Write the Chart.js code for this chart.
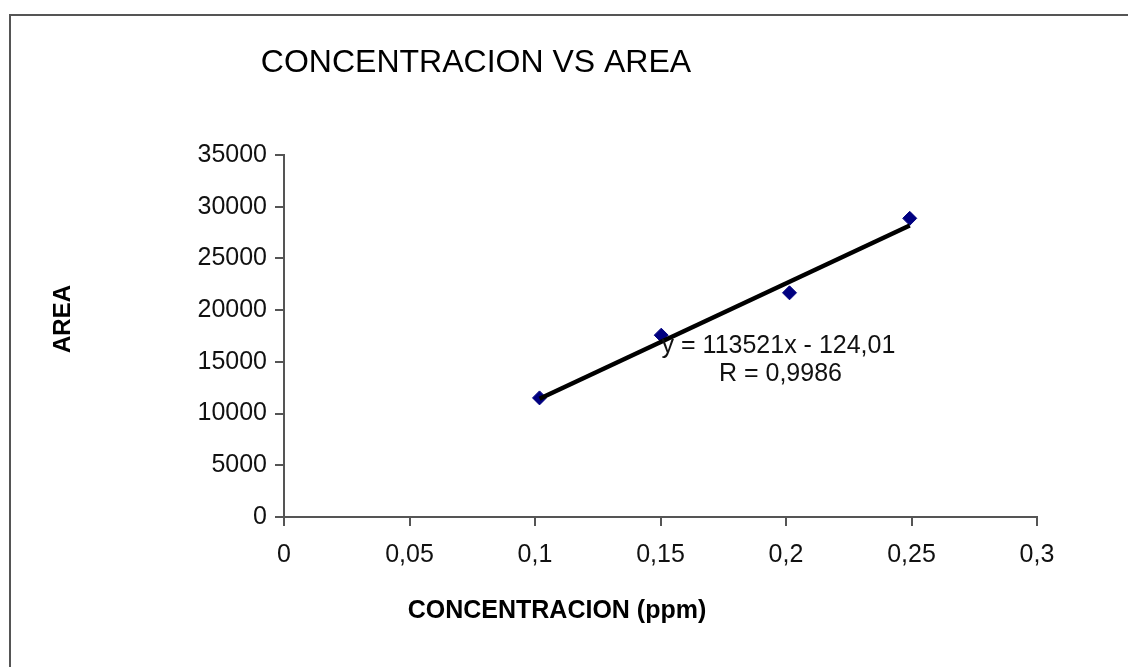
<!DOCTYPE html>
<html>
<head>
<meta charset="utf-8">
<script src="https://cdn.jsdelivr.net/npm/chart.js@4.4.1/dist/chart.umd.min.js"></script>
<style>
  html, body { margin: 0; padding: 0; background: #fff; }
  #wrap { width: 1128px; height: 667px; position: relative; }
</style>
</head>
<body>
<div id="wrap"><canvas id="chart"></canvas></div>
<script>
// Data
const concentracion = [0.1018, 0.1503, 0.2014, 0.2493];
const area = [11515, 17580, 21675, 28875];

// Trendline as shown on the chart
const slope = 113521;
const intercept = -124.01;
const rValue = '0,9986';

const xTicks = [0, 0.05, 0.1, 0.15, 0.2, 0.25, 0.3];
const yTicks = [0, 5000, 10000, 15000, 20000, 25000, 30000, 35000];

const FONT = "'Liberation Sans', Arial, sans-serif";
const AXIS = '#555555';

const points = concentracion.map((c, i) => ({ x: c, y: area[i] }));
const xMin = Math.min(...concentracion);
const xMax = Math.max(...concentracion);
const trend = [
  { x: xMin, y: slope * xMin + intercept },
  { x: xMax, y: slope * xMax + intercept }
];

// format numbers with a comma like the original (es locale)
const fmt = (v) => String(+v.toFixed(4)).replace('.', ',');

// title, axis titles, frame and trendline label
const decorations = {
  id: 'decorations',
  beforeDraw(chart) {
    const ctx = chart.ctx;
    ctx.save();
    ctx.strokeStyle = AXIS;
    ctx.lineWidth = 2;
    ctx.beginPath();
    ctx.moveTo(10, chart.height + 5);
    ctx.lineTo(10, 15);
    ctx.lineTo(chart.width + 5, 15);
    ctx.stroke();
    ctx.restore();
  },
  afterDraw(chart) {
    const ctx = chart.ctx;
    const xs = chart.scales.x;
    const ys = chart.scales.y;
    ctx.save();
    ctx.fillStyle = '#000';
    ctx.textAlign = 'center';
    ctx.textBaseline = 'middle';

    ctx.font = `32px ${FONT}`;
    ctx.fillText('CONCENTRACION VS AREA', 476, 63);

    ctx.font = `bold 25px ${FONT}`;
    ctx.fillText('CONCENTRACION (ppm)', 557, 611);

    ctx.save();
    ctx.translate(63, 319);
    ctx.rotate(-Math.PI / 2);
    ctx.font = `bold 24px ${FONT}`;
    ctx.fillText('AREA', 0, 0);
    ctx.restore();

    ctx.fillStyle = '#111';
    ctx.font = `25px ${FONT}`;
    const lx = xs.getPixelForValue(0.197);
    const ly = ys.getPixelForValue(16500);
    ctx.fillText(`y = ${slope}x - ${fmt(-intercept)}`, lx, ly);
    ctx.fillText(`R = ${rValue}`, lx + 2, ly + 28);
    ctx.restore();
  }
};

new Chart(document.getElementById('chart'), {
  type: 'scatter',
  data: {
    datasets: [
      {
        label: 'Tendencia',
        type: 'line',
        data: trend,
        borderColor: '#000',
        borderWidth: 4.5,
        pointRadius: 0,
        fill: false,
        order: 0
      },
      {
        label: 'Area',
        data: points,
        pointStyle: 'rectRot',
        pointRadius: 7,
        pointHoverRadius: 7,
        backgroundColor: '#000080',
        borderColor: '#000080',
        borderWidth: 1,
        order: 1
      }
    ]
  },
  options: {
    responsive: true,
    maintainAspectRatio: false,
    animation: false,
    layout: { padding: { top: 155, right: 91, left: 0, bottom: 0 } },
    plugins: {
      legend: { display: false },
      tooltip: { enabled: false }
    },
    scales: {
      x: {
        type: 'linear',
        min: 0,
        max: 0.3,
        afterBuildTicks: (scale) => { scale.ticks = xTicks.map(v => ({ value: v })); },
        afterFit: (scale) => { scale.height = 150; },
        ticks: {
          font: { family: FONT, size: 25 },
          color: '#111',
          padding: 14,
          maxRotation: 0,
          callback: (v) => fmt(v)
        },
        grid: { drawOnChartArea: false, drawTicks: true, tickLength: 9, color: AXIS, lineWidth: 2 },
        border: { display: true, color: AXIS, width: 2 }
      },
      y: {
        type: 'linear',
        min: 0,
        max: 35000,
        afterBuildTicks: (scale) => { scale.ticks = yTicks.map(v => ({ value: v })); },
        afterFit: (scale) => { scale.width = 284; },
        ticks: {
          font: { family: FONT, size: 25 },
          color: '#111',
          padding: 8,
          callback: (v) => String(v)
        },
        grid: { drawOnChartArea: false, drawTicks: true, tickLength: 9, color: AXIS, lineWidth: 2 },
        border: { display: true, color: AXIS, width: 2 }
      }
    }
  },
  plugins: [decorations]
});
</script>
</body>
</html>
